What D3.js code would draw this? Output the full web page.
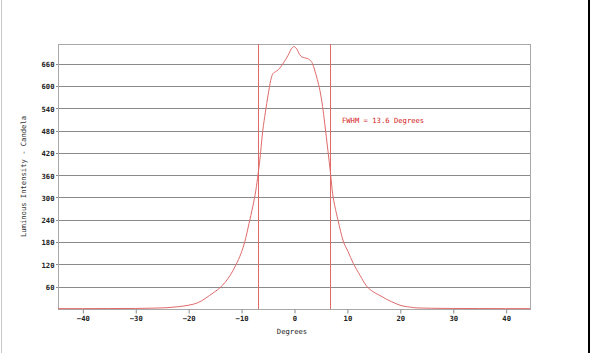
<!DOCTYPE html>
<html>
<head>
<meta charset="utf-8">
<script src="https://cdn.jsdelivr.net/npm/d3@7"></script>
<style>
  body { margin: 0; background: #fff; }
  svg { display: block; }
  text { font-family: "DejaVu Sans Mono", monospace; }
</style>
</head>
<body>
<svg id="chart" width="590" height="353"></svg>
<script>
// beam profile: degrees vs candela
const degrees = [-44.6, -40, -35, -30, -27, -24, -22, -20, -19, -18, -17, -16, -15, -14, -13, -12, -11, -10,
    -9.3, -8.5, -7.8, -7.2, -6.8, -6.5, -5.9, -5.4, -4.9, -4.4, -4.0, -3.3, -2.7, -2.0, -1.1, -0.5, 0,
    0.5, 1.1, 1.5, 2.0, 2.5, 3.0, 3.5, 3.9, 4.4, 4.9, 5.4, 5.8, 6.4, 6.9, 7.3, 7.7, 8.3, 9.3, 10.2,
    11.2, 12.5, 13.7, 15, 16, 16.8, 17.5, 18.4, 19.5, 20.6, 22, 23.1, 26, 30, 35, 40, 44.6];
const candela = [1, 1, 1.2, 1.5, 2.2, 3.5, 6, 10, 13, 18, 26, 36, 46, 57, 72, 92, 118, 150,
    181, 230, 275, 320, 362, 395, 480, 530, 575, 615, 633, 640, 648, 662, 683, 700, 706,
    700, 684, 678, 676, 674, 670, 660, 643, 618, 588, 545, 500, 427, 365, 310, 278, 240, 183, 155,
    123, 90, 62, 46, 38, 32, 26, 20, 13, 8, 5, 3, 2, 1.5, 1.2, 1, 1];
const fwhmEdges = [-6.8, 6.8];
const fwhmLabel = "FWHM = 13.6 Degrees";
const xTicks = [-40, -30, -20, -10, 0, 10, 20, 30, 40];
const yTicks = [60, 120, 180, 240, 300, 360, 420, 480, 540, 600, 660];

const margin = { left: 58, right: 60, top: 44, bottom: 44 };
const width = 590, height = 353;

const svg = d3.select("#chart");

const x = d3.scaleLinear()
    .domain([-44.6, 44.6])
    .range([margin.left, width - margin.right]);

const y = d3.scaleLinear()
    .domain([0, 713])
    .range([height - margin.bottom, margin.top]);

const red = "#e06a6a";

// page edges
svg.append("line")
    .attr("x1", 1.5).attr("x2", 1.5).attr("y1", 0).attr("y2", height)
    .attr("stroke", "#c8c8c8");
svg.append("line")
    .attr("x1", 589).attr("x2", 589).attr("y1", 0).attr("y2", height)
    .attr("stroke", "#000").attr("stroke-width", 2);

// horizontal grid
svg.append("g")
    .selectAll("line")
    .data(yTicks)
    .join("line")
    .attr("x1", margin.left - 2)
    .attr("x2", width - margin.right)
    .attr("y1", d => Math.round(y(d)) + 0.5)
    .attr("y2", d => Math.round(y(d)) + 0.5)
    .attr("stroke", "#8a8a8a");

// frame
svg.append("rect")
    .attr("x", margin.left + 0.5)
    .attr("y", margin.top + 0.5)
    .attr("width", width - margin.left - margin.right)
    .attr("height", height - margin.top - margin.bottom)
    .attr("fill", "none")
    .attr("stroke", "#a8a8a8");

// x axis
const xAxis = svg.append("g")
    .attr("transform", `translate(0.5,${height - margin.bottom + 0.5})`)
    .call(d3.axisBottom(x).tickValues(xTicks).tickSize(4).tickSizeOuter(0).tickPadding(2));
xAxis.select(".domain").remove();
xAxis.selectAll("line").attr("stroke", "#8a8a8a");
xAxis.selectAll("text")
    .attr("font-family", "DejaVu Sans Mono")
    .attr("font-size", 7.2)
    .attr("font-weight", "bold")
    .attr("fill", "#222");

// y labels
const yAxis = svg.append("g")
    .attr("transform", `translate(${margin.left - 2},0.5)`)
    .call(d3.axisLeft(y).tickValues(yTicks).tickSize(0).tickPadding(1.5));
yAxis.select(".domain").remove();
yAxis.selectAll("text")
    .attr("font-family", "DejaVu Sans Mono")
    .attr("font-size", 7.2)
    .attr("font-weight", "bold")
    .attr("fill", "#222");

// FWHM markers
svg.append("g")
    .selectAll("line")
    .data(fwhmEdges)
    .join("line")
    .attr("x1", d => Math.round(x(d)) + 0.5)
    .attr("x2", d => Math.round(x(d)) + 0.5)
    .attr("y1", margin.top)
    .attr("y2", height - margin.bottom)
    .attr("stroke", red);

// curve
const pts = degrees.map((d, i) => [d, candela[i]]);
svg.append("path")
    .datum(pts)
    .attr("fill", "none")
    .attr("stroke", red)
    .attr("stroke-width", 1)
    .attr("d", d3.line().x(d => x(d[0])).y(d => y(d[1])).curve(d3.curveMonotoneX));

svg.append("text")
    .attr("x", x(fwhmEdges[1]) + 12)
    .attr("y", y(480) - 8)
    .attr("font-size", 7.2)
    .attr("fill", "#d21c1c")
    .text(fwhmLabel);

// axis titles
svg.append("text")
    .attr("x", x(0) - 2)
    .attr("y", 334)
    .attr("text-anchor", "middle")
    .attr("font-size", 7.2)
    .attr("fill", "#222")
    .text("Degrees");

svg.append("text")
    .attr("transform", `translate(26,${(margin.top + height - margin.bottom) / 2}) rotate(-90)`)
    .attr("text-anchor", "middle")
    .attr("font-size", 7.2)
    .attr("fill", "#333")
    .text("Luminous Intensity - Candela");
</script>
</body>
</html>
